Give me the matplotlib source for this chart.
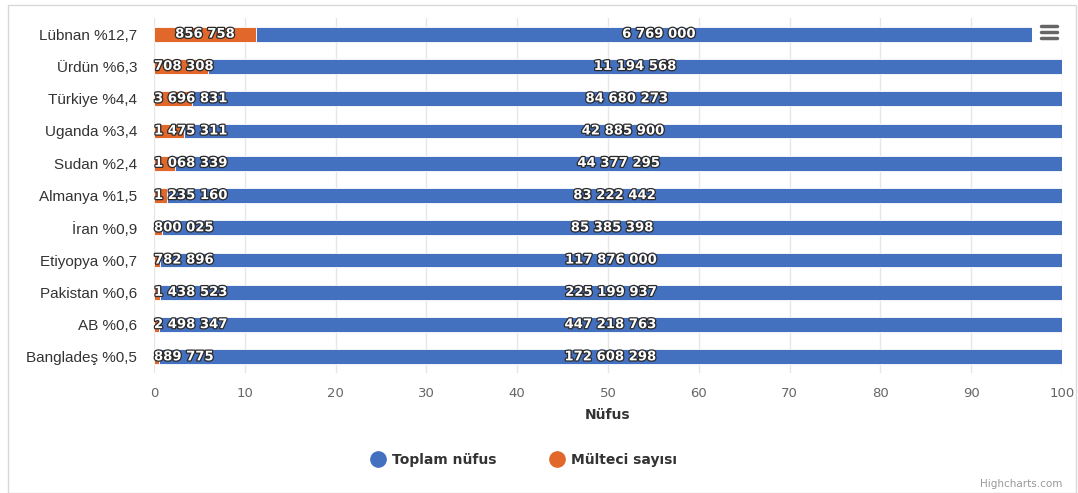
import matplotlib.pyplot as plt
import matplotlib.patheffects as pe
from matplotlib.patches import Rectangle
from matplotlib.lines import Line2D

countries = ["Lübnan %12,7", "Ürdün %6,3", "Türkiye %4,4", "Uganda %3,4", "Sudan %2,4",
             "Almanya %1,5", "İran %0,9", "Etiyopya %0,7", "Pakistan %0,6", "AB %0,6",
             "Bangladeş %0,5"]
refugees = [856758, 708308, 3696831, 1475311, 1068339, 1235160, 800025, 782896,
            1438523, 2498347, 889775]
population = [6769000, 11194568, 84680273, 42885900, 44377295, 83222442, 85385398,
              117876000, 225199937, 447218763, 172608298]

BLUE = "#4470c0"
ORANGE = "#e2672b"


def fmt(v):
    return f"{v:,}".replace(",", " ")


fig = plt.figure(figsize=(10.78, 4.93), dpi=100)
fig.patches.append(Rectangle((8 / 1078, 0.0), 1068 / 1078, 488 / 493, transform=fig.transFigure,
                             fill=False, edgecolor="#d8d8d8", linewidth=1.0))

ax = fig.add_axes([154 / 1078, 1 - 373 / 493, 908 / 1078, 355 / 493])

ys = list(range(len(countries)))
ref_pct = [r / (r + p) * 100 for r, p in zip(refugees, population)]
pop_pct = [100 - r for r in ref_pct]

ax.barh(ys, ref_pct, height=0.46, color=ORANGE, edgecolor="white", linewidth=0.6, zorder=3)
ax.barh(ys, pop_pct, left=ref_pct, height=0.46, color=BLUE, edgecolor="white", linewidth=0.6, zorder=3)

outline = [pe.withStroke(linewidth=1.8, foreground="#2a2a2a")]
for y, r, rp, p in zip(ys, refugees, ref_pct, population):
    if rp > 9:
        ax.text(rp / 2, y, fmt(r), ha="center", va="center", color="white", fontsize=9.5,
                fontweight="bold", path_effects=outline, zorder=5)
    else:
        ax.text(0, y, fmt(r), ha="left", va="center", color="white", fontsize=9.5,
                fontweight="bold", path_effects=outline, zorder=5)
    ax.text((rp + 100) / 2, y, fmt(p), ha="center", va="center", color="white", fontsize=9.5,
            fontweight="bold", path_effects=outline, zorder=5)

ax.set_xlim(0, 100)
ax.set_ylim(len(countries) - 0.5, -0.5)
ax.set_xticks(range(0, 101, 10))
ax.set_yticks(ys)
ax.set_yticklabels(countries, fontsize=11, color="#333333", family="Liberation Sans")
ax.tick_params(axis="x", length=0, labelsize=9.5, labelcolor="#666666", pad=10)
ax.tick_params(axis="y", length=0, pad=12)
ax.grid(axis="x", color="#e6e6e6", linewidth=1, zorder=0)
for s in ax.spines.values():
    s.set_visible(False)
ax.set_xlabel("Nüfus", fontsize=10, fontweight="bold", color="#333333", labelpad=6)

handles = [Line2D([], [], marker="o", linestyle="", markersize=11, color=BLUE),
           Line2D([], [], marker="o", linestyle="", markersize=11, color=ORANGE)]
leg = fig.legend(handles, ["Toplam nüfus", "Mülteci sayısı"], loc="center",
                 bbox_to_anchor=(522 / 1078, 1 - 460 / 493), ncol=2, frameon=False,
                 prop={"weight": "bold", "size": 10}, handletextpad=0.2, handlelength=1.6,
                 columnspacing=3.6)
for t in leg.get_texts():
    t.set_color("#333333")

# export menu icon
fig.patches.append(Rectangle((1032 / 1078, 1 - 44 / 493), 34 / 1078, 28 / 493,
                             transform=fig.transFigure, facecolor="white", edgecolor="none", zorder=10))
for yy in (26, 32, 38):
    fig.lines.append(Line2D([1041 / 1078, 1057 / 1078], [1 - yy / 493] * 2, transform=fig.transFigure,
                            color="#666666", linewidth=2.5, solid_capstyle="round", zorder=11))

fig.text(1062 / 1078, 1 - 484 / 493, "Highcharts.com", ha="right", va="center",
         fontsize=7.5, color="#999999")

fig.savefig("out.png", dpi=100)
